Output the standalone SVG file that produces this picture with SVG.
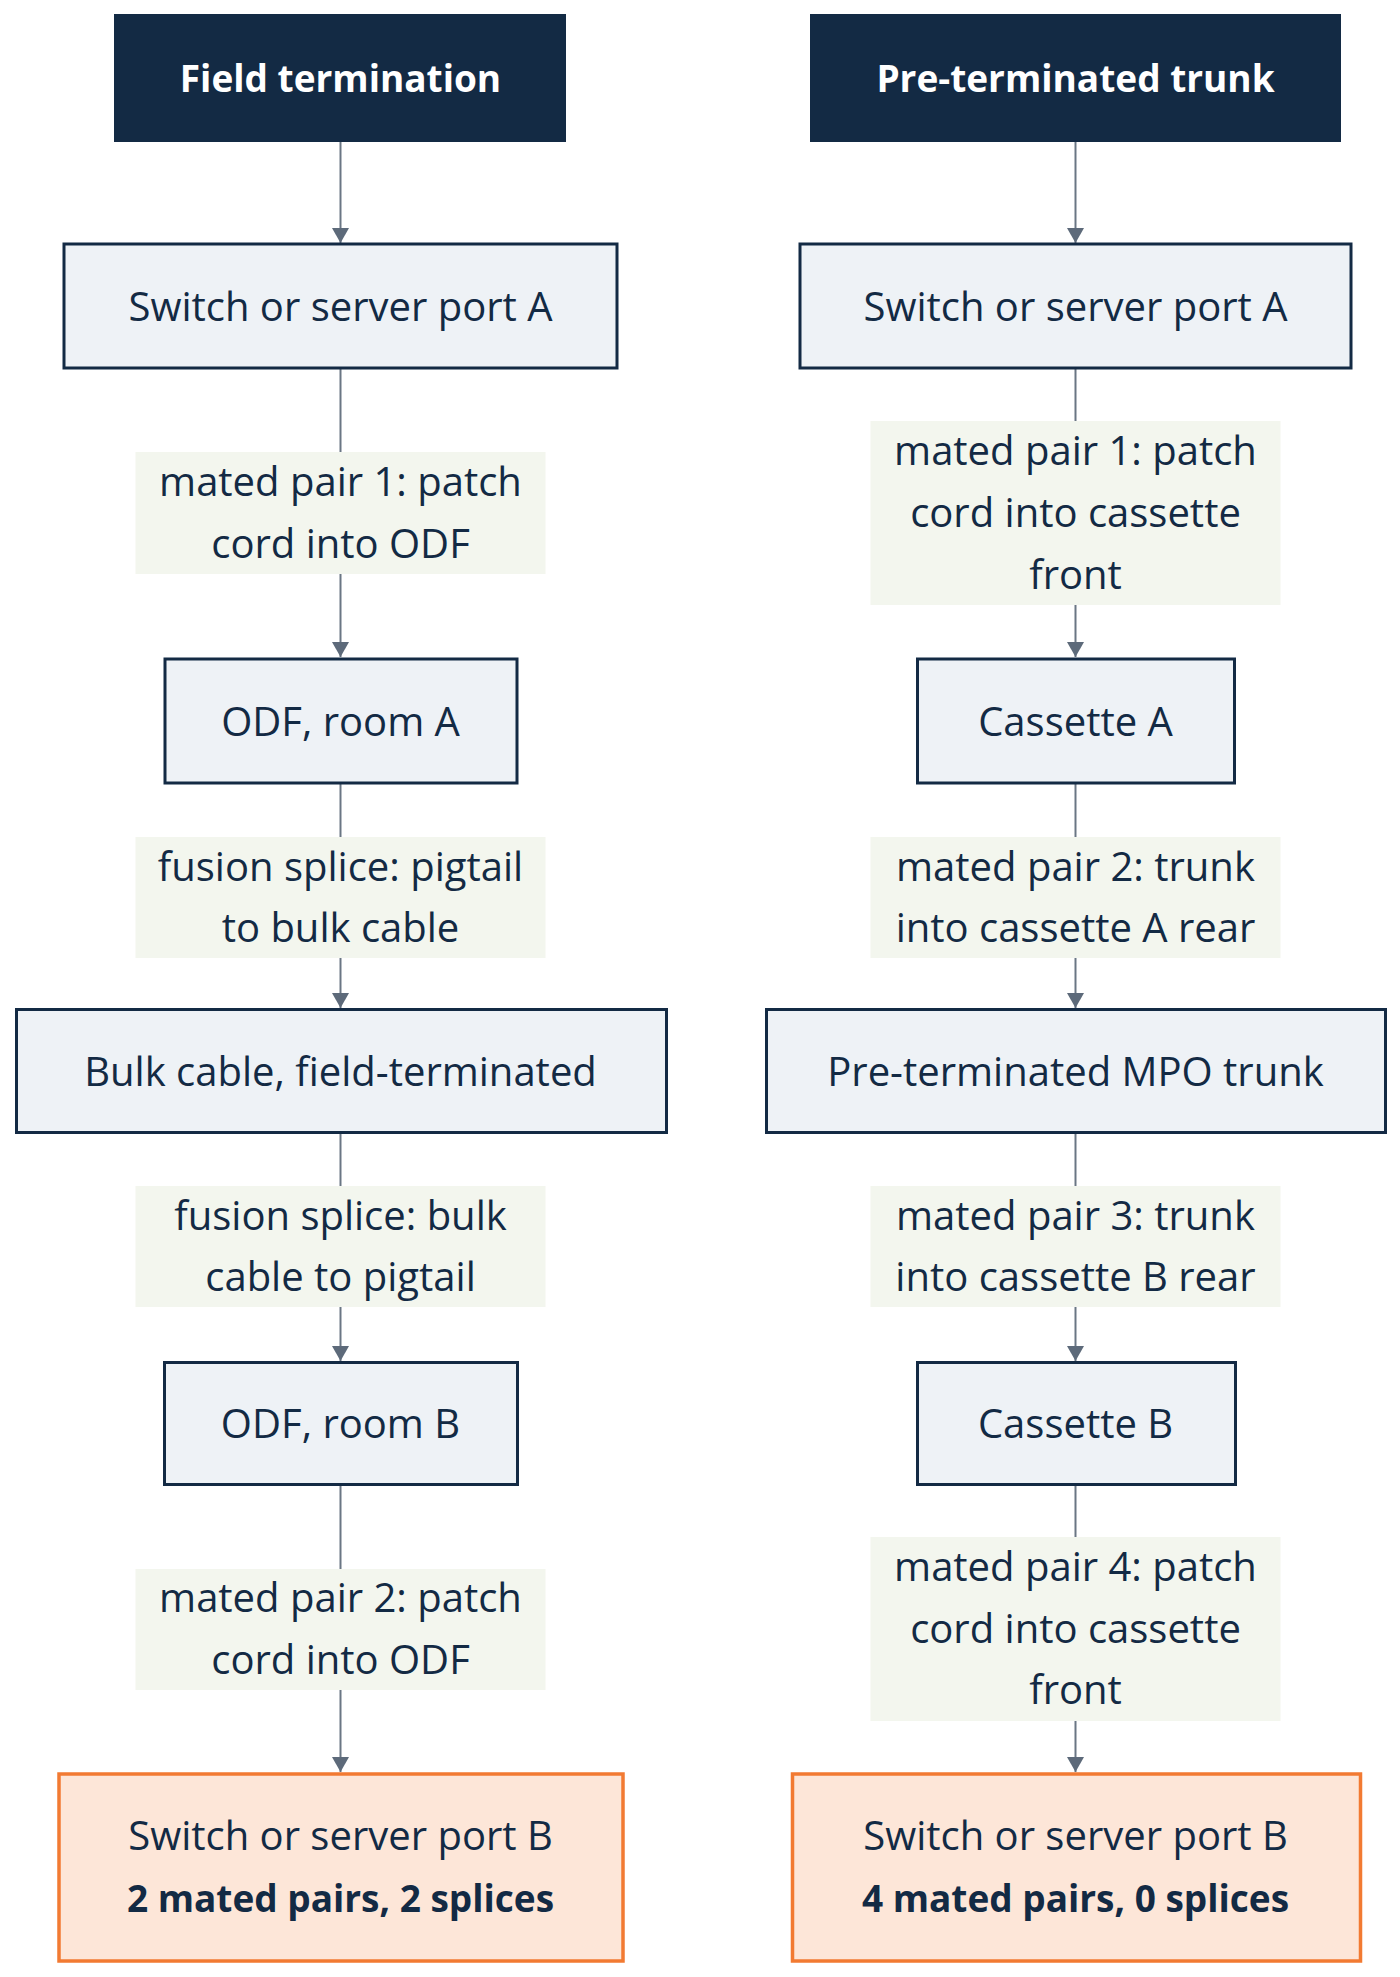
<svg xmlns="http://www.w3.org/2000/svg" width="1400" height="1977" viewBox="0 0 1400 1977">
  <style>
    .bg { fill: #ffffff; }
    .hdr rect { fill: #132a44; }
    .hdr text { fill: #ffffff; font-family: "Open Sans", "Noto Sans", sans-serif; font-weight: 700; font-size: 37px; text-anchor: middle; }
    .node rect { fill: #eef2f6; stroke: #132a44; stroke-width: 3; }
    .node text, .end text, .lbl text { fill: #132a44; font-family: "Open Sans", "Noto Sans", sans-serif; font-size: 40px; text-anchor: middle; }
    .end rect { fill: #fde6d8; stroke: #f27a32; stroke-width: 3.5; }
    .end text.b { font-weight: 700; font-size: 37px; }
    .lbl rect { fill: #f3f6ee; }
    .edge { stroke: #6a7684; stroke-width: 2; fill: none; }
  </style>
  <defs>
    <marker id="ah" markerUnits="userSpaceOnUse" markerWidth="16" markerHeight="17" viewBox="0 0 16 17" refX="15" refY="8.5" orient="auto">
      <path d="M0,0 L15,8.5 L0,17 z" fill="#5d6a7a"/>
    </marker>
  </defs>
  <rect class="bg" x="0" y="0" width="1400" height="1977"/>

  <g id="connectors">
    <line class="edge" x1="340.5" y1="142" x2="340.5" y2="243" marker-end="url(#ah)"/>
    <line class="edge" x1="340.5" y1="369" x2="340.5" y2="657" marker-end="url(#ah)"/>
    <line class="edge" x1="340.5" y1="784" x2="340.5" y2="1008" marker-end="url(#ah)"/>
    <line class="edge" x1="340.5" y1="1134" x2="340.5" y2="1361" marker-end="url(#ah)"/>
    <line class="edge" x1="340.5" y1="1485" x2="340.5" y2="1772" marker-end="url(#ah)"/>

    <line class="edge" x1="1075.5" y1="142" x2="1075.5" y2="243" marker-end="url(#ah)"/>
    <line class="edge" x1="1075.5" y1="369" x2="1075.5" y2="657" marker-end="url(#ah)"/>
    <line class="edge" x1="1075.5" y1="784" x2="1075.5" y2="1008" marker-end="url(#ah)"/>
    <line class="edge" x1="1075.5" y1="1134" x2="1075.5" y2="1361" marker-end="url(#ah)"/>
    <line class="edge" x1="1075.5" y1="1485" x2="1075.5" y2="1772" marker-end="url(#ah)"/>

    <g class="lbl" id="label-l1">
      <rect x="135.5" y="452" width="410" height="122"/>
      <text x="340.5" y="496">mated pair 1: patch</text>
      <text x="340.5" y="558">cord into ODF</text>
    </g>
    <g class="lbl" id="label-l2">
      <rect x="135.5" y="837" width="410" height="121"/>
      <text x="340.5" y="881">fusion splice: pigtail</text>
      <text x="340.5" y="942">to bulk cable</text>
    </g>
    <g class="lbl" id="label-l3">
      <rect x="135.5" y="1186" width="410" height="121"/>
      <text x="340.5" y="1230">fusion splice: bulk</text>
      <text x="340.5" y="1291">cable to pigtail</text>
    </g>
    <g class="lbl" id="label-l4">
      <rect x="135.5" y="1569" width="410" height="121"/>
      <text x="340.5" y="1612">mated pair 2: patch</text>
      <text x="340.5" y="1674">cord into ODF</text>
    </g>

    <g class="lbl" id="label-r1">
      <rect x="870.5" y="421" width="410" height="184"/>
      <text x="1075.5" y="465">mated pair 1: patch</text>
      <text x="1075.5" y="527">cord into cassette</text>
      <text x="1075.5" y="589">front</text>
    </g>
    <g class="lbl" id="label-r2">
      <rect x="870.5" y="837" width="410" height="121"/>
      <text x="1075.5" y="881">mated pair 2: trunk</text>
      <text x="1075.5" y="942">into cassette A rear</text>
    </g>
    <g class="lbl" id="label-r3">
      <rect x="870.5" y="1186" width="410" height="121"/>
      <text x="1075.5" y="1230">mated pair 3: trunk</text>
      <text x="1075.5" y="1291">into cassette B rear</text>
    </g>
    <g class="lbl" id="label-r4">
      <rect x="870.5" y="1537" width="410" height="184"/>
      <text x="1075.5" y="1581">mated pair 4: patch</text>
      <text x="1075.5" y="1643">cord into cassette</text>
      <text x="1075.5" y="1704">front</text>
    </g>
  </g>

  <g id="hdr-field" class="hdr">
    <rect x="114" y="14" width="452" height="128"/>
    <text x="340.5" y="92">Field termination</text>
  </g>
  <g id="l-switch-a" class="node">
    <rect x="64" y="244" width="553" height="124"/>
    <text x="340.5" y="321">Switch or server port A</text>
  </g>
  <g id="l-odf-a" class="node">
    <rect x="165" y="659" width="352" height="124"/>
    <text x="340.5" y="736">ODF, room A</text>
  </g>
  <g id="l-bulk" class="node">
    <rect x="16.5" y="1009.5" width="650" height="123"/>
    <text x="340.5" y="1086">Bulk cable, field-terminated</text>
  </g>
  <g id="l-odf-b" class="node">
    <rect x="164.5" y="1362.5" width="353" height="122"/>
    <text x="340.5" y="1438">ODF, room B</text>
  </g>
  <g id="l-switch-b" class="end">
    <rect x="59" y="1774" width="564" height="187"/>
    <text x="340.5" y="1850">Switch or server port B</text>
    <text class="b" x="340.5" y="1912">2 mated pairs, 2 splices</text>
  </g>

  <g id="hdr-trunk" class="hdr">
    <rect x="810" y="14" width="531" height="128"/>
    <text x="1075.5" y="92">Pre-terminated trunk</text>
  </g>
  <g id="r-switch-a" class="node">
    <rect x="800" y="244" width="551" height="124"/>
    <text x="1075.5" y="321">Switch or server port A</text>
  </g>
  <g id="r-cassette-a" class="node">
    <rect x="917.5" y="659" width="317" height="124"/>
    <text x="1075.5" y="736">Cassette A</text>
  </g>
  <g id="r-mpo" class="node">
    <rect x="766.5" y="1009.5" width="619" height="123"/>
    <text x="1075.5" y="1086">Pre-terminated MPO trunk</text>
  </g>
  <g id="r-cassette-b" class="node">
    <rect x="917.5" y="1362.5" width="318" height="122"/>
    <text x="1075.5" y="1438">Cassette B</text>
  </g>
  <g id="r-switch-b" class="end">
    <rect x="792.5" y="1774" width="568" height="187"/>
    <text x="1075.5" y="1850">Switch or server port B</text>
    <text class="b" x="1075.5" y="1912">4 mated pairs, 0 splices</text>
  </g>
</svg>
